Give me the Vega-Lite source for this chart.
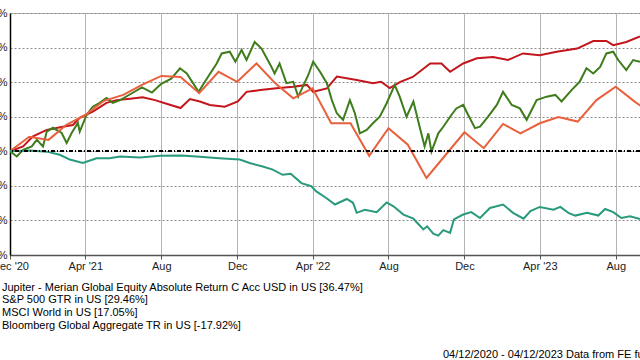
{
  "$schema": "https://vega.github.io/schema/vega-lite/v6.json",
  "width": 630,
  "height": 242,
  "autosize": "none",
  "padding": {"left": 10, "top": 13, "right": 0, "bottom": 105},
  "background": "white",
  "config": {
    "view": {"stroke": "#bbbbbb"},
    "font": "Liberation Sans",
    "axisX": {
      "domainColor": "#555555",
      "domainWidth": 1.5,
      "tickColor": "#555555",
      "tickSize": 4,
      "labelFont": "Liberation Sans",
      "labelFontSize": 11,
      "labelColor": "#222222",
      "labelPadding": 1,
      "labelFlush": false,
      "labelOverlap": false
    },
    "axisY": {
      "domainColor": "#000000",
      "domainWidth": 1.5,
      "ticks": false,
      "labelFont": "Liberation Sans",
      "labelFontSize": 11,
      "labelColor": "#222222",
      "labelPadding": 3,
      "labelOverlap": false,
      "labelFlush": false
    }
  },
  "title": {
    "text": "04/12/2020 - 04/12/2023 Data from FE fundinfo2023",
    "orient": "bottom",
    "anchor": "start",
    "frame": "group",
    "dx": 433,
    "offset": 18,
    "fontSize": 11,
    "fontWeight": "normal",
    "font": "Liberation Sans",
    "color": "#000000"
  },
  "data": {
    "values": [
      {"s": "J", "d": "2020-12-04", "v": 0},
      {"s": "J", "d": "2020-12-25", "v": 1.4},
      {"s": "J", "d": "2021-01-10", "v": 4.3},
      {"s": "J", "d": "2021-02-01", "v": 6.2},
      {"s": "J", "d": "2021-02-27", "v": 7.1},
      {"s": "J", "d": "2021-03-15", "v": 7.6},
      {"s": "J", "d": "2021-03-26", "v": 9.7},
      {"s": "J", "d": "2021-04-16", "v": 11.5},
      {"s": "J", "d": "2021-05-08", "v": 14.0},
      {"s": "J", "d": "2021-05-24", "v": 14.8},
      {"s": "J", "d": "2021-06-15", "v": 15.2},
      {"s": "J", "d": "2021-07-05", "v": 15.6},
      {"s": "J", "d": "2021-07-25", "v": 14.8},
      {"s": "J", "d": "2021-08-15", "v": 13.6},
      {"s": "J", "d": "2021-09-04", "v": 12.5},
      {"s": "J", "d": "2021-09-19", "v": 15.1},
      {"s": "J", "d": "2021-10-05", "v": 14.4},
      {"s": "J", "d": "2021-10-21", "v": 13.4},
      {"s": "J", "d": "2021-11-14", "v": 12.9},
      {"s": "J", "d": "2021-12-05", "v": 14.4},
      {"s": "J", "d": "2021-12-19", "v": 17.2},
      {"s": "J", "d": "2022-01-10", "v": 17.7},
      {"s": "J", "d": "2022-02-05", "v": 18.2},
      {"s": "J", "d": "2022-03-04", "v": 18.7},
      {"s": "J", "d": "2022-03-26", "v": 19.2},
      {"s": "J", "d": "2022-04-05", "v": 17.2},
      {"s": "J", "d": "2022-04-27", "v": 18.2},
      {"s": "J", "d": "2022-05-13", "v": 21.6},
      {"s": "J", "d": "2022-06-14", "v": 20.6},
      {"s": "J", "d": "2022-07-10", "v": 19.7},
      {"s": "J", "d": "2022-07-23", "v": 20.1},
      {"s": "J", "d": "2022-08-06", "v": 18.3},
      {"s": "J", "d": "2022-08-23", "v": 20.1},
      {"s": "J", "d": "2022-09-12", "v": 21.5},
      {"s": "J", "d": "2022-10-10", "v": 25.4},
      {"s": "J", "d": "2022-10-28", "v": 25.4},
      {"s": "J", "d": "2022-11-11", "v": 23.0},
      {"s": "J", "d": "2022-12-02", "v": 25.4},
      {"s": "J", "d": "2022-12-24", "v": 26.9},
      {"s": "J", "d": "2023-01-19", "v": 27.3},
      {"s": "J", "d": "2023-02-12", "v": 26.4},
      {"s": "J", "d": "2023-03-08", "v": 28.3},
      {"s": "J", "d": "2023-04-04", "v": 27.8},
      {"s": "J", "d": "2023-05-01", "v": 28.8},
      {"s": "J", "d": "2023-06-03", "v": 29.7},
      {"s": "J", "d": "2023-06-29", "v": 31.9},
      {"s": "J", "d": "2023-07-20", "v": 31.9},
      {"s": "J", "d": "2023-07-31", "v": 30.7},
      {"s": "J", "d": "2023-08-21", "v": 31.6},
      {"s": "J", "d": "2023-09-12", "v": 33.2},

      {"s": "S", "d": "2020-12-04", "v": 0},
      {"s": "S", "d": "2020-12-15", "v": -1.5},
      {"s": "S", "d": "2020-12-25", "v": 0.4},
      {"s": "S", "d": "2021-01-08", "v": 1.4},
      {"s": "S", "d": "2021-01-16", "v": 3.3},
      {"s": "S", "d": "2021-01-26", "v": 1.4},
      {"s": "S", "d": "2021-02-01", "v": 5.7},
      {"s": "S", "d": "2021-02-11", "v": 6.8},
      {"s": "S", "d": "2021-02-25", "v": 5.3},
      {"s": "S", "d": "2021-03-05", "v": 2.4},
      {"s": "S", "d": "2021-03-13", "v": 5.3},
      {"s": "S", "d": "2021-03-23", "v": 8.2},
      {"s": "S", "d": "2021-03-26", "v": 5.7},
      {"s": "S", "d": "2021-04-06", "v": 10.5},
      {"s": "S", "d": "2021-04-16", "v": 12.9},
      {"s": "S", "d": "2021-04-27", "v": 14.0},
      {"s": "S", "d": "2021-05-08", "v": 15.4},
      {"s": "S", "d": "2021-05-18", "v": 14.0},
      {"s": "S", "d": "2021-05-30", "v": 14.8},
      {"s": "S", "d": "2021-06-15", "v": 16.5},
      {"s": "S", "d": "2021-07-04", "v": 18.5},
      {"s": "S", "d": "2021-07-20", "v": 17.0},
      {"s": "S", "d": "2021-08-04", "v": 19.5},
      {"s": "S", "d": "2021-08-20", "v": 21.0},
      {"s": "S", "d": "2021-09-03", "v": 24.0},
      {"s": "S", "d": "2021-09-14", "v": 22.5},
      {"s": "S", "d": "2021-10-03", "v": 17.2},
      {"s": "S", "d": "2021-10-13", "v": 20.1},
      {"s": "S", "d": "2021-11-01", "v": 25.4},
      {"s": "S", "d": "2021-11-09", "v": 28.3},
      {"s": "S", "d": "2021-11-22", "v": 28.8},
      {"s": "S", "d": "2021-12-01", "v": 25.9},
      {"s": "S", "d": "2021-12-11", "v": 29.3},
      {"s": "S", "d": "2021-12-19", "v": 26.4},
      {"s": "S", "d": "2022-01-01", "v": 31.6},
      {"s": "S", "d": "2022-01-12", "v": 29.7},
      {"s": "S", "d": "2022-01-22", "v": 26.4},
      {"s": "S", "d": "2022-01-28", "v": 24.4},
      {"s": "S", "d": "2022-02-02", "v": 22.5},
      {"s": "S", "d": "2022-02-10", "v": 25.4},
      {"s": "S", "d": "2022-02-21", "v": 19.7},
      {"s": "S", "d": "2022-03-04", "v": 20.1},
      {"s": "S", "d": "2022-03-12", "v": 15.8},
      {"s": "S", "d": "2022-03-28", "v": 22.0},
      {"s": "S", "d": "2022-04-05", "v": 25.9},
      {"s": "S", "d": "2022-04-16", "v": 23.0},
      {"s": "S", "d": "2022-04-27", "v": 19.7},
      {"s": "S", "d": "2022-05-05", "v": 14.8},
      {"s": "S", "d": "2022-05-13", "v": 11.0},
      {"s": "S", "d": "2022-05-23", "v": 9.1},
      {"s": "S", "d": "2022-06-03", "v": 14.8},
      {"s": "S", "d": "2022-06-11", "v": 11.0},
      {"s": "S", "d": "2022-06-19", "v": 5.2},
      {"s": "S", "d": "2022-06-30", "v": 6.2},
      {"s": "S", "d": "2022-07-10", "v": 8.1},
      {"s": "S", "d": "2022-07-21", "v": 10.0},
      {"s": "S", "d": "2022-08-01", "v": 13.9},
      {"s": "S", "d": "2022-08-14", "v": 19.2},
      {"s": "S", "d": "2022-08-22", "v": 15.8},
      {"s": "S", "d": "2022-09-02", "v": 10.0},
      {"s": "S", "d": "2022-09-13", "v": 14.4},
      {"s": "S", "d": "2022-09-23", "v": 7.1},
      {"s": "S", "d": "2022-10-01", "v": 1.4},
      {"s": "S", "d": "2022-10-07", "v": 5.2},
      {"s": "S", "d": "2022-10-12", "v": -0.1},
      {"s": "S", "d": "2022-10-23", "v": 5.2},
      {"s": "S", "d": "2022-10-31", "v": 7.1},
      {"s": "S", "d": "2022-11-13", "v": 10.5},
      {"s": "S", "d": "2022-11-21", "v": 12.4},
      {"s": "S", "d": "2022-12-02", "v": 13.4},
      {"s": "S", "d": "2022-12-10", "v": 10.5},
      {"s": "S", "d": "2022-12-21", "v": 6.7},
      {"s": "S", "d": "2022-12-29", "v": 7.1},
      {"s": "S", "d": "2023-01-11", "v": 10.0},
      {"s": "S", "d": "2023-01-25", "v": 13.4},
      {"s": "S", "d": "2023-02-04", "v": 17.2},
      {"s": "S", "d": "2023-02-18", "v": 13.4},
      {"s": "S", "d": "2023-03-03", "v": 12.4},
      {"s": "S", "d": "2023-03-14", "v": 9.1},
      {"s": "S", "d": "2023-03-30", "v": 14.8},
      {"s": "S", "d": "2023-04-15", "v": 15.8},
      {"s": "S", "d": "2023-04-29", "v": 16.3},
      {"s": "S", "d": "2023-05-09", "v": 14.4},
      {"s": "S", "d": "2023-05-25", "v": 17.7},
      {"s": "S", "d": "2023-06-07", "v": 20.1},
      {"s": "S", "d": "2023-06-18", "v": 24.0},
      {"s": "S", "d": "2023-06-29", "v": 22.5},
      {"s": "S", "d": "2023-07-10", "v": 24.4},
      {"s": "S", "d": "2023-07-20", "v": 28.3},
      {"s": "S", "d": "2023-07-31", "v": 28.8},
      {"s": "S", "d": "2023-08-08", "v": 26.4},
      {"s": "S", "d": "2023-08-21", "v": 23.5},
      {"s": "S", "d": "2023-09-01", "v": 26.4},
      {"s": "S", "d": "2023-09-12", "v": 25.9},

      {"s": "M", "d": "2020-12-04", "v": 0},
      {"s": "M", "d": "2021-01-04", "v": 4.2},
      {"s": "M", "d": "2021-02-04", "v": 3.3},
      {"s": "M", "d": "2021-03-04", "v": 7.6},
      {"s": "M", "d": "2021-04-04", "v": 10.5},
      {"s": "M", "d": "2021-05-04", "v": 14.6},
      {"s": "M", "d": "2021-06-04", "v": 16.3},
      {"s": "M", "d": "2021-07-04", "v": 19.2},
      {"s": "M", "d": "2021-08-04", "v": 21.8},
      {"s": "M", "d": "2021-09-04", "v": 21.5},
      {"s": "M", "d": "2021-10-04", "v": 16.8},
      {"s": "M", "d": "2021-11-04", "v": 23.0},
      {"s": "M", "d": "2021-12-04", "v": 20.1},
      {"s": "M", "d": "2022-01-04", "v": 25.4},
      {"s": "M", "d": "2022-02-04", "v": 19.5},
      {"s": "M", "d": "2022-03-04", "v": 15.3},
      {"s": "M", "d": "2022-04-04", "v": 18.2},
      {"s": "M", "d": "2022-05-04", "v": 8.1},
      {"s": "M", "d": "2022-06-04", "v": 8.1},
      {"s": "M", "d": "2022-07-04", "v": -1.3},
      {"s": "M", "d": "2022-08-04", "v": 6.7},
      {"s": "M", "d": "2022-09-04", "v": 1.9},
      {"s": "M", "d": "2022-10-04", "v": -7.7},
      {"s": "M", "d": "2022-11-04", "v": -1.0},
      {"s": "M", "d": "2022-12-04", "v": 5.5},
      {"s": "M", "d": "2023-01-04", "v": 0.9},
      {"s": "M", "d": "2023-02-04", "v": 7.9},
      {"s": "M", "d": "2023-03-04", "v": 5.2},
      {"s": "M", "d": "2023-04-04", "v": 8.1},
      {"s": "M", "d": "2023-05-04", "v": 9.9},
      {"s": "M", "d": "2023-06-04", "v": 8.6},
      {"s": "M", "d": "2023-07-04", "v": 14.8},
      {"s": "M", "d": "2023-08-04", "v": 18.7},
      {"s": "M", "d": "2023-09-04", "v": 14.3},
      {"s": "M", "d": "2023-10-04", "v": 10.5},

      {"s": "B", "d": "2020-12-04", "v": 0},
      {"s": "B", "d": "2021-01-05", "v": 0.2},
      {"s": "B", "d": "2021-02-01", "v": -0.1},
      {"s": "B", "d": "2021-02-22", "v": -1.0},
      {"s": "B", "d": "2021-03-10", "v": -2.4},
      {"s": "B", "d": "2021-03-31", "v": -3.4},
      {"s": "B", "d": "2021-04-22", "v": -2.0},
      {"s": "B", "d": "2021-05-13", "v": -2.0},
      {"s": "B", "d": "2021-05-30", "v": -1.5},
      {"s": "B", "d": "2021-07-01", "v": -1.8},
      {"s": "B", "d": "2021-08-02", "v": -1.3},
      {"s": "B", "d": "2021-09-05", "v": -1.2},
      {"s": "B", "d": "2021-10-05", "v": -1.6},
      {"s": "B", "d": "2021-11-05", "v": -2.0},
      {"s": "B", "d": "2021-12-08", "v": -2.4},
      {"s": "B", "d": "2021-12-24", "v": -3.4},
      {"s": "B", "d": "2022-01-14", "v": -4.4},
      {"s": "B", "d": "2022-01-30", "v": -5.3},
      {"s": "B", "d": "2022-02-15", "v": -6.8},
      {"s": "B", "d": "2022-02-28", "v": -6.5},
      {"s": "B", "d": "2022-03-17", "v": -9.2},
      {"s": "B", "d": "2022-04-02", "v": -10.1},
      {"s": "B", "d": "2022-04-10", "v": -11.6},
      {"s": "B", "d": "2022-04-26", "v": -13.5},
      {"s": "B", "d": "2022-05-10", "v": -15.4},
      {"s": "B", "d": "2022-05-29", "v": -13.8},
      {"s": "B", "d": "2022-06-08", "v": -14.9},
      {"s": "B", "d": "2022-06-14", "v": -17.8},
      {"s": "B", "d": "2022-06-27", "v": -16.9},
      {"s": "B", "d": "2022-07-16", "v": -17.6},
      {"s": "B", "d": "2022-08-01", "v": -14.8},
      {"s": "B", "d": "2022-08-12", "v": -15.9},
      {"s": "B", "d": "2022-08-28", "v": -18.3},
      {"s": "B", "d": "2022-09-13", "v": -19.5},
      {"s": "B", "d": "2022-09-29", "v": -22.6},
      {"s": "B", "d": "2022-10-05", "v": -21.7},
      {"s": "B", "d": "2022-10-15", "v": -23.8},
      {"s": "B", "d": "2022-10-23", "v": -24.4},
      {"s": "B", "d": "2022-10-31", "v": -22.8},
      {"s": "B", "d": "2022-11-11", "v": -23.6},
      {"s": "B", "d": "2022-11-17", "v": -19.7},
      {"s": "B", "d": "2022-12-02", "v": -18.3},
      {"s": "B", "d": "2022-12-15", "v": -17.6},
      {"s": "B", "d": "2022-12-29", "v": -19.3},
      {"s": "B", "d": "2023-01-14", "v": -16.4},
      {"s": "B", "d": "2023-02-04", "v": -15.4},
      {"s": "B", "d": "2023-02-20", "v": -17.8},
      {"s": "B", "d": "2023-03-09", "v": -19.5},
      {"s": "B", "d": "2023-03-20", "v": -17.3},
      {"s": "B", "d": "2023-04-04", "v": -16.1},
      {"s": "B", "d": "2023-04-26", "v": -16.9},
      {"s": "B", "d": "2023-05-07", "v": -16.1},
      {"s": "B", "d": "2023-05-20", "v": -17.8},
      {"s": "B", "d": "2023-05-31", "v": -18.6},
      {"s": "B", "d": "2023-06-19", "v": -17.8},
      {"s": "B", "d": "2023-07-07", "v": -18.6},
      {"s": "B", "d": "2023-07-18", "v": -16.7},
      {"s": "B", "d": "2023-07-31", "v": -17.6},
      {"s": "B", "d": "2023-08-13", "v": -19.3},
      {"s": "B", "d": "2023-08-27", "v": -18.8},
      {"s": "B", "d": "2023-09-12", "v": -19.6}
    ]
  },
  "encoding": {
    "x": {
      "field": "d",
      "type": "temporal",
      "scale": {
        "type": "utc",
        "domain": [
          {"year": 2020, "month": 12, "date": 4, "utc": true},
          {"year": 2023, "month": 9, "date": 12, "utc": true}
        ]
      },
      "axis": {
        "title": null,
        "grid": true,
        "gridColor": "#b4b4b4",
        "gridWidth": 1,
        "gridOpacity": 1,
        "labelOverlap": false,
        "values": [
          {"year": 2020, "month": 12, "date": 4, "utc": true},
          {"year": 2021, "month": 4, "date": 4, "utc": true},
          {"year": 2021, "month": 8, "date": 4, "utc": true},
          {"year": 2021, "month": 12, "date": 4, "utc": true},
          {"year": 2022, "month": 4, "date": 4, "utc": true},
          {"year": 2022, "month": 8, "date": 4, "utc": true},
          {"year": 2022, "month": 12, "date": 4, "utc": true},
          {"year": 2023, "month": 4, "date": 4, "utc": true},
          {"year": 2023, "month": 8, "date": 4, "utc": true}
        ],
        "labelExpr": "datum.value < datetime(2021, 0, 1) || utcmonth(datum.value) == 3 ? utcFormat(datum.value, \"%b '%y\") : utcFormat(datum.value, \"%b\")"
      }
    },
    "y": {
      "field": "v",
      "type": "quantitative",
      "scale": {"domain": [-30, 40], "nice": false, "zero": false},
      "axis": {
        "title": null,
        "grid": true,
        "gridColor": "#8c8c8c",
        "gridDash": [2, 2],
        "gridWidth": 1,
        "gridOpacity": 1,
        "labelOverlap": false,
        "values": [-30, -20, -10, 0, 10, 20, 30, 40],
        "labelExpr": "datum.value + '%'"
      }
    }
  },
  "layer": [
    {
      "mark": {"type": "line", "strokeWidth": 2, "clip": true, "interpolate": "linear"},
      "encoding": {
        "color": {
          "field": "s",
          "type": "nominal",
          "scale": {
            "domain": ["J", "S", "M", "B"],
            "range": ["#c3161c", "#3e7c1c", "#e8603c", "#2a9a7e"]
          },
          "legend": {
            "orient": "none",
            "legendX": -19,
            "legendY": 269,
            "title": null,
            "direction": "vertical",
            "symbolSize": 0,
            "symbolStrokeWidth": 0,
            "symbolOpacity": 0,
            "labelOffset": 0,
            "labelFont": "Liberation Sans",
            "labelFontSize": 11,
            "labelColor": "#000000",
            "labelLimit": 600,
            "rowPadding": 0.7,
            "padding": 0,
            "labelExpr": "datum.value == 'J' ? 'Jupiter - Merian Global Equity Absolute Return C Acc USD in US [36.47%]' : datum.value == 'S' ? 'S&P 500 GTR in US [29.46%]' : datum.value == 'M' ? 'MSCI World in US [17.05%]' : 'Bloomberg Global Aggregate TR in US [-17.92%]'"
          }
        }
      }
    },
    {
      "mark": {"type": "rule", "color": "#000000", "strokeWidth": 1.3, "strokeDash": [4, 2, 1, 2]},
      "encoding": {"y": {"datum": 0, "type": "quantitative"}, "x": null}
    }
  ]
}
